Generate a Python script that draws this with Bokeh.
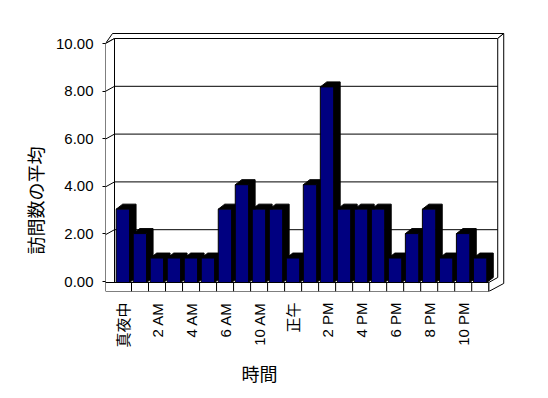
import numpy as np
from bokeh.plotting import figure
from bokeh.models import Range1d, LinearAxis, FixedTicker, NumeralTickFormatter, Title
from bokeh.embed import file_html
from bokeh.resources import INLINE

# ---- data ----
CATEGORIES = ["真夜中", "1 AM", "2 AM", "3 AM", "4 AM", "5 AM", "6 AM", "8 AM",
              "10 AM", "11 AM", "正午", "1 PM", "2 PM", "3 PM", "4 PM", "5 PM",
              "6 PM", "7 PM", "8 PM", "9 PM", "10 PM", "11 PM"]
VALUES = [3, 2, 1, 1, 1, 1, 3, 4, 3, 3, 1, 4, 8, 3, 3, 3, 1, 2, 3, 1, 2, 1]
Y_TICKS = [0, 2, 4, 6, 8, 10]
X_TITLE = "時間"
Y_TITLE = "訪問数の平均"

# ---- layout constants (pixels) ----
W, H = 548, 398
FL, FR, FT, FB = 105, 508, 30, 291
SX = 17.01        # px per category slot
SY_BAR = 24.45    # px per unit, bars
SY_BACK = 23.9    # px per unit, back wall
SY_FRONT = 23.8   # px per unit, front axis
Y0_BAR, Y0_BACK, Y0_FRONT = 282, 277, 281

N = len(VALUES)
YMAX = Y_TICKS[-1]
WALL = 9 / SX
x_start = -0.5 - WALL
x_end = x_start + (FR - FL) / SX

p = figure(width=W, height=H, output_backend="svg", toolbar_location=None,
           x_axis_type=None, y_axis_type=None,
           x_range=Range1d(x_start, x_end),
           y_range=Range1d((Y0_BAR - FB) / SY_BAR, (Y0_BAR - FT) / SY_BAR),
           min_border_left=FL, min_border_right=W - FR,
           min_border_top=FT, min_border_bottom=H - FB)
p.extra_y_ranges = {
    "back": Range1d((Y0_BACK - FB) / SY_BACK, (Y0_BACK - FT) / SY_BACK),
    "front": Range1d((Y0_FRONT - FB) / SY_FRONT, (Y0_FRONT - FT) / SY_FRONT),
}
p.outline_line_color = None
p.background_fill_color = "white"
p.border_fill_color = "white"

# ---- walls / floor (back range) ----
DY = 5 / SY_BACK
FLOOR_T = 9 / SY_BACK
DX = 9 / SX
DXO = 15 / SX
DXT = 7 / SX
WL, WB, XR = -0.5 - WALL, -0.5, N - 0.5
LW = dict(line_color="black", line_width=1)

p.quad(left=WB, right=XR + DX, bottom=-DY, top=YMAX, fill_color="white",
       line_color=None, y_range_name="back")
p.patch([WL, WL + DXT, XR + DXO, XR + DX, WB],
        [YMAX - DY, YMAX + DY, YMAX + DY, YMAX, YMAX],
        fill_color="white", y_range_name="back", **LW)
p.patch([WL, WB, WB, WL], [YMAX - DY, YMAX, -DY, -DY],
        fill_color="white", y_range_name="back", **LW)
p.patch([XR + DX, XR + DXO, XR + DXO, XR, XR, XR + DX],
        [YMAX, YMAX + DY, -DY - 0.04, -DY - FLOOR_T, -DY, 0],
        fill_color="white", y_range_name="back", **LW)
grid_v = [v for v in Y_TICKS if 0 < v < YMAX]
p.segment(x0=[WB] * len(grid_v), y0=grid_v, x1=[XR + DX] * len(grid_v), y1=grid_v,
          y_range_name="back", **LW)
p.segment(x0=[WL] * len(grid_v), y0=[v - DY for v in grid_v], x1=[WB] * len(grid_v),
          y1=grid_v, y_range_name="back", **LW)
p.quad(left=WL, right=XR, bottom=-DY - FLOOR_T, top=-DY, fill_color="white",
       y_range_name="back", **LW)
div_x = [i + 0.5 for i in range(N - 1)]
p.segment(x0=div_x, y0=[-DY - FLOOR_T] * len(div_x), x1=div_x, y1=[-DY] * len(div_x),
          y_range_name="back", **LW)

# ---- bars (main range) ----
idx = np.arange(N)
vals = np.array(VALUES, dtype=float)
left = idx - 0.40
right = idx + 0.385
DXB = 6.5 / SX
DYB = 5 / SY_BAR
xs_side = [[l, l + DXB, r + DXB, r + DXB, r, r] for l, r in zip(left, right)]
ys_side = [[v, v + DYB, v + DYB, DYB, 0, v] for v in vals]
p.patches(xs_side, ys_side, fill_color="black", line_color="black", line_width=1)
p.quad(left=left, right=right, bottom=0, top=vals, fill_color="#000080",
       line_color="black", line_width=1)

# ---- axes ----
FONT = "Liberation Sans, Noto Sans CJK JP"
yax = LinearAxis(y_range_name="front", ticker=FixedTicker(ticks=Y_TICKS),
                 formatter=NumeralTickFormatter(format="0.00"))
yax.axis_line_color = None
yax.major_tick_out = 3
yax.major_tick_in = 0
yax.minor_tick_line_color = None
yax.major_label_standoff = 9
yax.major_label_text_font = FONT
yax.major_label_text_font_size = "15px"
yax.major_label_text_color = "black"
p.add_layout(yax, "left")

xticks = list(range(0, N, 2))
xax = LinearAxis(ticker=FixedTicker(ticks=xticks),
                 major_label_overrides={i: CATEGORIES[i] for i in xticks})
xax.axis_line_color = None
xax.major_tick_line_color = None
xax.minor_tick_line_color = None
xax.major_tick_out = 0
xax.major_tick_in = 0
xax.major_label_orientation = np.pi / 2
xax.major_label_standoff = 11
xax.major_label_text_font = FONT
xax.major_label_text_font_size = "15px"
xax.major_label_text_color = "black"
p.add_layout(xax, "below")

# ---- axis titles ----
p.add_layout(Title(text=Y_TITLE, align="left", offset=FB - 254,
                   text_font="Noto Sans CJK JP", text_font_size="18px",
                   text_font_style="normal", text_color="black", standoff=10), "left")
p.add_layout(Title(text=X_TITLE, align="left", offset=241 - FL,
                   text_font="Noto Sans CJK JP", text_font_size="18px",
                   text_font_style="normal", text_color="black", standoff=15), "below")

open("out.html", "w").write(file_html(p, INLINE))
